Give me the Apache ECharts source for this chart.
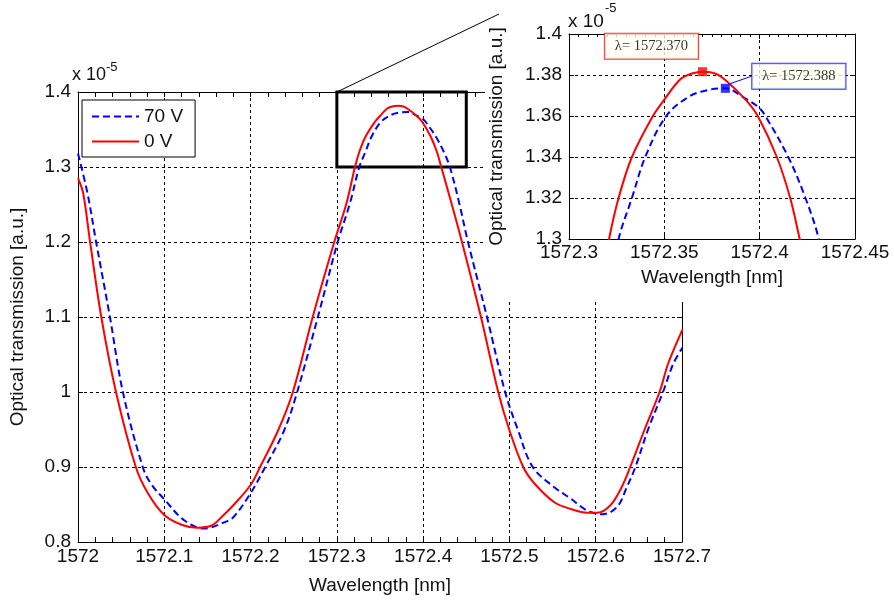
<!DOCTYPE html>
<html><head><meta charset="utf-8">
<script src="https://cdn.jsdelivr.net/npm/echarts@6/dist/echarts.min.js"></script>
<style>html,body{margin:0;padding:0;background:#fff}#c{width:894px;height:602px}</style>
</head><body><div id="c"></div>
<script>
// ---- data (transmission in units of 1e-5) ----
const seriesNames = ['70 V', '0 V'];
const wavelength0V = [1572.000,1572.006,1572.014,1572.027,1572.044,1572.067,1572.081,1572.100,1572.120,1572.138,1572.155,1572.167,1572.180,1572.200,1572.211,1572.232,1572.249,1572.272,1572.297,1572.311,1572.321,1572.326,1572.333,1572.344,1572.350,1572.358,1572.364,1572.371,1572.377,1572.382,1572.3926,1572.399,1572.409,1572.416,1572.421,1572.433,1572.445,1572.467,1572.487,1572.500,1572.516,1572.529,1572.552,1572.571,1572.590,1572.602,1572.617,1572.630,1572.640,1572.657,1572.674,1572.684,1572.701];
const transmission0V = [1.285,1.265,1.200,1.100,1.000,0.900,0.865,0.836,0.823,0.819,0.822,0.834,0.849,0.876,0.900,0.949,1.000,1.100,1.200,1.251,1.300,1.320,1.340,1.360,1.368,1.3776,1.3806,1.3816,1.3806,1.3776,1.368,1.360,1.340,1.320,1.300,1.251,1.200,1.100,1.000,0.949,0.900,0.878,0.853,0.844,0.839,0.839,0.849,0.873,0.900,0.951,1.000,1.038,1.084];
const wavelength70V = [1572.000,1572.011,1572.021,1572.037,1572.052,1572.075,1572.085,1572.100,1572.123,1572.146,1572.169,1572.180,1572.200,1572.217,1572.239,1572.254,1572.278,1572.301,1572.315,1572.326,1572.333,1572.340,1572.351,1572.363,1572.373,1572.382,1572.392,1572.3995,1572.403,1572.415,1572.424,1572.431,1572.442,1572.452,1572.474,1572.495,1572.510,1572.527,1572.552,1572.571,1572.590,1572.608,1572.625,1572.636,1572.646,1572.661,1572.678,1572.690,1572.701];
const transmission70V = [1.318,1.265,1.200,1.100,1.000,0.900,0.877,0.857,0.829,0.818,0.826,0.833,0.865,0.900,0.949,1.000,1.100,1.200,1.251,1.300,1.320,1.340,1.360,1.3695,1.3727,1.3735,1.3688,1.3642,1.360,1.340,1.320,1.300,1.251,1.200,1.100,1.000,0.949,0.900,0.873,0.858,0.842,0.837,0.847,0.873,0.900,0.951,1.000,1.038,1.060];
// peak markers (data tips)
const peakWavelength = [1572.370, 1572.382];
const peakTransmission = [1.3816, 1.3735];
const peakLabels = ['\u03bb= 1572.370', '\u03bb= 1572.388'];
// axes
const mainXRange = [1572, 1572.7], mainXInterval = 0.1;
const mainYRange = [0.8, 1.4], mainYInterval = 0.1;
const insetXRange = [1572.3, 1572.45], insetXInterval = 0.05;
const insetYRange = [1.3, 1.4], insetYInterval = 0.02;
// zoomed region shown by the inset
const zoomX = [1572.3, 1572.45];
const zoomY = [1.3, 1.4];

// ---- build ----
const pairs = (xs, ys) => xs.map((x, i) => [x, ys[i]]);
const d0 = pairs(wavelength0V, transmission0V);
const d70 = pairs(wavelength70V, transmission70V);
const FONT = '"Liberation Sans", Arial, sans-serif';
const SERIF = '"Liberation Serif", "Times New Roman", serif';
const RED = '#ff0000', BLUE = '#0000ff', TXT = '#111';
const fmt = v => String(+v.toFixed(3));
const grid = {color: '#000', type: [3, 3], width: 1};
const SMOOTH = 0.35;

function axisBase(extra) {
  return Object.assign({
    type: 'value',
    axisLine: {show: true, onZero: false, lineStyle: {color: '#000', width: 1}},
    axisTick: {show: true, inside: true, length: 5, lineStyle: {color: '#000'}},
    axisLabel: {show: false},
    splitLine: {show: false}
  }, extra);
}
const labelStyle = {fontFamily: FONT, fontSize: 19, color: TXT, formatter: fmt, showMinLabel: true, showMaxLabel: true};
const nameStyle = {fontFamily: FONT, fontSize: 19, color: TXT};

const option = {
  animation: false,
  backgroundColor: '#fff',
  grid: [
    {left: 73, top: 92, width: 609, height: 450, show: false},
    {left: 569, top: 34, width: 286, height: 205, show: false}
  ],
  legend: {
    data: seriesNames,
    orient: 'vertical', left: 82, top: 100,
    itemWidth: 47, itemHeight: 14, itemGap: 6,
    padding: [7, 12, 6, 9],
    backgroundColor: '#fff', borderColor: '#000', borderWidth: 1,
    itemStyle: {opacity: 0},
    textStyle: {fontFamily: FONT, fontSize: 19, color: TXT},
    selectedMode: false
  },
  xAxis: [
    axisBase({gridIndex: 0, position: 'bottom', min: mainXRange[0], max: mainXRange[1], interval: mainXInterval,
      minorTick: {show: true, splitNumber: 5, length: 5, lineStyle: {color: '#000'}},
      axisLabel: Object.assign({margin: 5}, labelStyle),
      splitLine: {show: true, lineStyle: grid},
      name: 'Wavelength [nm]', nameLocation: 'middle', nameGap: 34, nameTextStyle: nameStyle}),
    axisBase({gridIndex: 0, position: 'top', min: mainXRange[0], max: mainXRange[1], interval: mainXInterval,
      minorTick: {show: true, splitNumber: 5, length: 5, lineStyle: {color: '#000'}}}),
    axisBase({gridIndex: 1, position: 'bottom', min: insetXRange[0], max: insetXRange[1], interval: insetXInterval, z: 10,
      axisLabel: Object.assign({margin: 4}, labelStyle),
      splitLine: {show: true, lineStyle: grid},
      name: 'Wavelength [nm]', nameLocation: 'middle', nameGap: 29, nameTextStyle: nameStyle}),
    axisBase({gridIndex: 1, position: 'top', min: insetXRange[0], max: insetXRange[1], interval: insetXInterval, z: 10,
      minorTick: {show: true, splitNumber: 10, length: 3, lineStyle: {color: '#000'}}})
  ],
  yAxis: [
    axisBase({gridIndex: 0, position: 'left', min: mainYRange[0], max: mainYRange[1], interval: mainYInterval,
      axisLabel: Object.assign({margin: 7}, labelStyle),
      splitLine: {show: true, lineStyle: grid},
      name: 'Optical transmission [a.u.]', nameLocation: 'middle', nameGap: 51, nameTextStyle: nameStyle}),
    axisBase({gridIndex: 0, position: 'right', min: mainYRange[0], max: mainYRange[1], interval: mainYInterval}),
    axisBase({gridIndex: 1, position: 'left', min: insetYRange[0], max: insetYRange[1], interval: insetYInterval, z: 10,
      axisLabel: Object.assign({margin: 7}, labelStyle),
      splitLine: {show: true, lineStyle: grid},
      name: 'Optical transmission [a.u.]', nameLocation: 'middle', nameGap: 63, nameTextStyle: nameStyle}),
    axisBase({gridIndex: 1, position: 'right', min: insetYRange[0], max: insetYRange[1], interval: insetYInterval, z: 10})
  ],
  series: [
    {name: seriesNames[0], type: 'line', xAxisIndex: 0, yAxisIndex: 0, data: d70, showSymbol: false, symbol: 'none',
      smooth: SMOOTH, clip: false, z: 2,
      lineStyle: {color: BLUE, width: 2, type: [7, 4]}, itemStyle: {color: BLUE}},
    {name: seriesNames[1], type: 'line', xAxisIndex: 0, yAxisIndex: 0, data: d0, showSymbol: false, symbol: 'none',
      smooth: SMOOTH, clip: false, z: 3,
      lineStyle: {color: RED, width: 2, type: 'solid'}, itemStyle: {color: RED},
      markArea: {silent: true, itemStyle: {color: 'rgba(0,0,0,0)', borderColor: '#000', borderWidth: 3},
        data: [[{coord: [zoomX[0], zoomY[0]]}, {coord: [zoomX[1], zoomY[1]]}]]},
      markLine: {silent: true, symbol: ['none', 'none'], label: {show: false},
        lineStyle: {color: '#000', width: 1, type: 'solid'},
        data: [[{coord: [zoomX[0], zoomY[1]]}, {x: 499, y: 14}]]}},
    {name: seriesNames[0], type: 'line', xAxisIndex: 2, yAxisIndex: 2, data: d70, showSymbol: false, symbol: 'none',
      smooth: SMOOTH, clip: true, z: 12,
      lineStyle: {color: BLUE, width: 2, type: [7, 4]}, itemStyle: {color: BLUE}},
    {name: seriesNames[1], type: 'line', xAxisIndex: 2, yAxisIndex: 2, data: d0, showSymbol: false, symbol: 'none',
      smooth: SMOOTH, clip: true, z: 13,
      lineStyle: {color: RED, width: 2, type: 'solid'}, itemStyle: {color: RED}},
    {name: 'peak0', type: 'scatter', xAxisIndex: 2, yAxisIndex: 2, z: 14, symbol: 'rect', symbolSize: 9,
      data: [[peakWavelength[0], peakTransmission[0]]], itemStyle: {color: RED},
      label: {show: true, position: 'inside', formatter: peakLabels[0], fontFamily: SERIF, fontSize: 14.5, color: '#000',
        backgroundColor: '#fffff4', borderColor: RED, borderWidth: 1, padding: [5, 10, 5, 10]},
      labelLayout: {dx: -51, dy: -25.5}, labelLine: {show: false}},
    {name: 'peak70', type: 'scatter', xAxisIndex: 2, yAxisIndex: 2, z: 14, symbol: 'rect', symbolSize: 9,
      data: [[peakWavelength[1], peakTransmission[1]]], itemStyle: {color: BLUE},
      label: {show: true, position: 'inside', formatter: peakLabels[1], fontFamily: SERIF, fontSize: 14.5, color: '#000',
        backgroundColor: '#fffff4', borderColor: BLUE, borderWidth: 1, padding: [5, 10, 5, 10]},
      labelLayout: {dx: 73.5, dy: -12}, labelLine: {show: true, lineStyle: {color: BLUE, width: 1}}}
  ],
  graphic: {elements: [
    {type: 'rect', z: 5, silent: true, shape: {x: 485, y: 24, width: 409, height: 278}, style: {fill: '#fff'}},
    {type: 'text', z: 20, left: 72, top: 66, style: {text: 'x 10', font: '18px "Liberation Sans", Arial', fill: TXT}},
    {type: 'text', z: 20, left: 106, top: 61, style: {text: '-5', font: '13px "Liberation Sans", Arial', fill: TXT}},
    {type: 'text', z: 20, left: 568, top: 12, style: {text: 'x 10', font: '19px "Liberation Sans", Arial', fill: TXT}},
    {type: 'text', z: 20, left: 605, top: 2, style: {text: '-5', font: '13px "Liberation Sans", Arial', fill: TXT}}
  ]}
};
const chart = echarts.init(document.getElementById('c'), null, {renderer: 'canvas'});
chart.setOption(option);
</script></body></html>
